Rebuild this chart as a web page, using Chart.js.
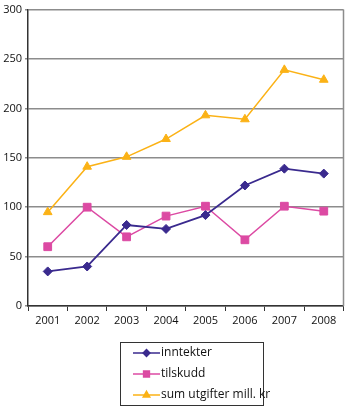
<!DOCTYPE html>
<html><head><meta charset="utf-8">
<script src="https://cdn.jsdelivr.net/npm/chart.js@4/dist/chart.umd.min.js"></script>
<style>html,body{margin:0;padding:0;background:#fff}#wrap{width:350px;height:407px}</style>
</head><body><div id="wrap"><canvas id="c" width="350" height="407"></canvas></div>
<script>
const years = ['2001','2002','2003','2004','2005','2006','2007','2008'];
const inntekter = [35, 40, 82, 78, 92, 122, 139, 134];
const tilskudd = [60, 100, 70, 91, 101, 67, 101, 96];
const sumUtgifter = [95, 141, 151, 169, 193, 189, 239, 229];
const yTicks = [0, 50, 100, 150, 200, 250, 300];
const seriesNames = ['inntekter', 'tilskudd', 'sum utgifter mill. kr'];
const colors = ['#3a2a8e', '#dc4aa3', '#fbb216'];
const FONT = '"Open Sans", "Liberation Sans", sans-serif';

const boxLegend = {
  id: 'boxLegend',
  afterDraw(chart) {
    const ctx = chart.ctx;
    const a = chart.chartArea;
    ctx.save();
    ctx.strokeStyle = '#8c8c8c'; ctx.lineWidth = 1.5;
    ctx.beginPath(); ctx.moveTo(a.right, a.top); ctx.lineTo(a.right, a.bottom); ctx.stroke();
    const bx = 120.5, by = 342.5, bw = 143, bh = 63;
    ctx.strokeStyle = '#333'; ctx.lineWidth = 1;
    ctx.strokeRect(bx, by, bw, bh);
    const rows = [353, 374, 395];
    chart.data.datasets.forEach((ds, i) => {
      const y = rows[i];
      ctx.strokeStyle = ds.borderColor; ctx.lineWidth = 1.5;
      ctx.beginPath(); ctx.moveTo(133, y); ctx.lineTo(160, y); ctx.stroke();
      Chart.helpers.drawPoint(ctx, {pointStyle: ds.pointStyle, rotation: 0, radius: ds.pointRadius * 0.75, borderWidth: 1}, 146.5, y);
      ctx.fillStyle = ds.backgroundColor;
      ctx.strokeStyle = ds.borderColor;
      ctx.fill();
      ctx.fillStyle = '#111';
      ctx.font = '12px ' + FONT;
      ctx.textBaseline = 'middle'; ctx.textAlign = 'left';
      ctx.fillText(ds.label, 161, y);
    });
    ctx.restore();
  }
};

new Chart(document.getElementById('c'), {
  type: 'line',
  data: {
    labels: years,
    datasets: [
      {label: seriesNames[0], data: inntekter, borderColor: colors[0], backgroundColor: colors[0], borderWidth: 1.8, pointStyle: 'rectRot', pointRadius: 4.5, pointBorderWidth: 1},
      {label: seriesNames[1], data: tilskudd, borderColor: colors[1], backgroundColor: colors[1], borderWidth: 1.5, pointStyle: 'rect', pointRadius: 5.5, pointBorderWidth: 1},
      {label: seriesNames[2], data: sumUtgifter, borderColor: colors[2], backgroundColor: colors[2], borderWidth: 1.5, pointStyle: 'triangle', pointRadius: 5, pointBorderWidth: 1}
    ]
  },
  options: {
    responsive: false,
    animation: false,
    devicePixelRatio: 1,
    layout: {padding: {top: 0, right: 2, bottom: 76, left: 0}},
    plugins: {legend: {display: false}, tooltip: {enabled: false}},
    elements: {line: {tension: 0}},
    scales: {
      x: {
        offset: true,
        grid: {offset: true, drawOnChartArea: false, drawTicks: true, tickLength: 5, color: '#333', lineWidth: 1},
        border: {color: '#333', width: 1.5},
        ticks: {color: '#111', font: {family: FONT, size: 11}, padding: 3, maxRotation: 0},
        afterFit(s) { s.height = 25; }
      },
      y: {
        min: 0, max: 300,
        afterBuildTicks(s) { s.ticks = yTicks.map(v => ({value: v})); },
        grid: {color: '#8c8c8c', lineWidth: 1.5, drawTicks: true, tickLength: 3},
        border: {color: '#333', width: 1.5},
        ticks: {color: '#111', font: {family: FONT, size: 11}, padding: 3},
        afterFit(s) { s.width = 28; }
      }
    }
  },
  plugins: [boxLegend]
});
</script></body></html>
